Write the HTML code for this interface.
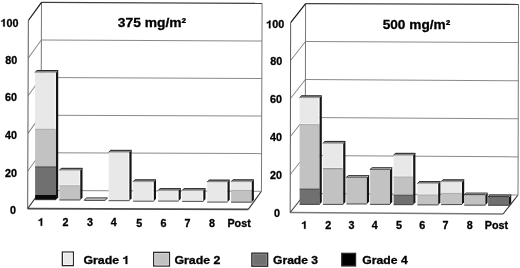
<!DOCTYPE html>
<html><head><meta charset="utf-8"><style>
html,body{margin:0;padding:0;background:#fff;}
body{width:520px;height:268px;overflow:hidden;}
svg{display:block;will-change:transform;}
text{font-family:"Liberation Sans",sans-serif;font-weight:bold;fill:#000;stroke:#000;stroke-width:0.3px;}
.one{fill:#000;stroke:#000;stroke-width:0.3px;vector-effect:non-scaling-stroke;}
</style></head><body>
<svg width="520" height="268" viewBox="0 0 520 268">
<rect width="520" height="268" fill="#fff"/>
<g transform="matrix(1,0,-0.00350,1,0.008,0)">
<line x1="41.50" y1="152.78" x2="262.10" y2="153.64" stroke="#8a8a8a" stroke-width="1"/>
<line x1="41.50" y1="152.78" x2="28.40" y2="170.98" stroke="#8a8a8a" stroke-width="1"/>
<line x1="41.50" y1="115.16" x2="262.10" y2="116.08" stroke="#8a8a8a" stroke-width="1"/>
<line x1="41.50" y1="115.16" x2="28.40" y2="133.36" stroke="#8a8a8a" stroke-width="1"/>
<line x1="41.50" y1="77.54" x2="262.10" y2="78.52" stroke="#8a8a8a" stroke-width="1"/>
<line x1="41.50" y1="77.54" x2="28.40" y2="95.74" stroke="#8a8a8a" stroke-width="1"/>
<line x1="41.50" y1="39.92" x2="262.10" y2="40.96" stroke="#8a8a8a" stroke-width="1"/>
<line x1="41.50" y1="39.92" x2="28.40" y2="58.12" stroke="#8a8a8a" stroke-width="1"/>
<line x1="41.50" y1="2.30" x2="41.50" y2="190.40" stroke="#777" stroke-width="1"/>
<line x1="262.10" y1="3.40" x2="262.10" y2="191.20" stroke="#777" stroke-width="1"/>
<line x1="41.50" y1="2.30" x2="262.10" y2="3.40" stroke="#404040" stroke-width="1.2"/>
<line x1="41.50" y1="2.30" x2="28.40" y2="20.50" stroke="#151515" stroke-width="1.2"/>
<line x1="28.40" y1="20.50" x2="28.40" y2="208.60" stroke="#5a5a5a" stroke-width="1.0"/>
<line x1="28.40" y1="208.60" x2="249.00" y2="209.40" stroke="#4a4a4a" stroke-width="1.6"/>
<line x1="262.10" y1="191.20" x2="249.00" y2="209.40" stroke="#333" stroke-width="1.1"/>
<line x1="41.50" y1="190.40" x2="28.40" y2="208.60" stroke="#333" stroke-width="1.0"/>
<line x1="41.50" y1="190.40" x2="262.10" y2="191.20" stroke="#8a8a8a" stroke-width="1"/>
</g>
<polygon points="35.10,72.50 56.00,72.50 56.00,128.80 35.10,128.80" fill="#e8e8e8"/>
<polygon points="35.10,128.80 56.00,128.80 56.00,166.90 35.10,166.90" fill="#c2c2c2"/>
<polygon points="35.10,166.90 56.00,166.90 56.00,195.00 35.10,195.00" fill="#707070"/>
<polygon points="35.10,195.00 56.00,195.00 56.00,199.70 35.10,199.70" fill="#0a0a0a"/>
<polygon points="56.00,72.50 58.20,70.10 58.20,197.30 56.00,199.70" fill="#151515"/>
<polygon points="35.10,72.50 37.30,70.10 58.20,70.10 56.00,72.50" fill="#808080"/>
<line x1="37.30" y1="70.50" x2="58.20" y2="70.50" stroke="#1e1e1e" stroke-width="0.9"/>
<line x1="35.10" y1="72.50" x2="37.30" y2="70.10" stroke="#1e1e1e" stroke-width="0.9"/>
<line x1="35.10" y1="72.30" x2="56.00" y2="72.30" stroke="#9a9a9a" stroke-width="0.5"/>
<line x1="55.10" y1="73.10" x2="55.10" y2="128.40" stroke="#fbfbfb" stroke-width="0.9"/>
<line x1="35.10" y1="128.35" x2="55.00" y2="128.35" stroke="#f6f6f6" stroke-width="0.8"/>
<line x1="35.10" y1="129.20" x2="55.00" y2="129.20" stroke="#a4a4a4" stroke-width="0.8"/>
<line x1="35.10" y1="166.90" x2="56.00" y2="166.90" stroke="#2a2a2a" stroke-width="0.7"/>
<line x1="35.10" y1="199.70" x2="56.00" y2="199.70" stroke="#222" stroke-width="0.8"/>
<polygon points="59.40,170.30 80.30,170.30 80.30,185.40 59.40,185.40" fill="#e8e8e8"/>
<polygon points="59.40,185.40 80.30,185.40 80.30,200.00 59.40,200.00" fill="#c2c2c2"/>
<polygon points="80.30,170.30 82.50,167.90 82.50,197.60 80.30,200.00" fill="#151515"/>
<polygon points="59.40,170.30 61.60,167.90 82.50,167.90 80.30,170.30" fill="#808080"/>
<line x1="61.60" y1="168.30" x2="82.50" y2="168.30" stroke="#1e1e1e" stroke-width="0.9"/>
<line x1="59.40" y1="170.30" x2="61.60" y2="167.90" stroke="#1e1e1e" stroke-width="0.9"/>
<line x1="59.40" y1="170.10" x2="80.30" y2="170.10" stroke="#9a9a9a" stroke-width="0.5"/>
<line x1="79.40" y1="170.90" x2="79.40" y2="185.00" stroke="#fbfbfb" stroke-width="0.9"/>
<line x1="59.40" y1="184.95" x2="79.30" y2="184.95" stroke="#f6f6f6" stroke-width="0.8"/>
<line x1="59.40" y1="185.80" x2="79.30" y2="185.80" stroke="#a4a4a4" stroke-width="0.8"/>
<line x1="59.40" y1="200.00" x2="80.30" y2="200.00" stroke="#222" stroke-width="0.8"/>
<polygon points="84.30,200.30 86.50,197.90 107.40,197.90 105.20,200.30" fill="#d8d8d8" stroke="#1a1a1a" stroke-width="0.9"/>
<polygon points="108.70,152.30 129.40,152.30 129.40,200.70 108.70,200.70" fill="#e8e8e8"/>
<polygon points="129.40,152.30 131.60,149.90 131.60,198.30 129.40,200.70" fill="#151515"/>
<polygon points="108.70,152.30 110.90,149.90 131.60,149.90 129.40,152.30" fill="#808080"/>
<line x1="110.90" y1="150.30" x2="131.60" y2="150.30" stroke="#1e1e1e" stroke-width="0.9"/>
<line x1="108.70" y1="152.30" x2="110.90" y2="149.90" stroke="#1e1e1e" stroke-width="0.9"/>
<line x1="108.70" y1="152.10" x2="129.40" y2="152.10" stroke="#9a9a9a" stroke-width="0.5"/>
<line x1="128.50" y1="152.90" x2="128.50" y2="200.30" stroke="#fbfbfb" stroke-width="0.9"/>
<line x1="108.70" y1="200.70" x2="129.40" y2="200.70" stroke="#222" stroke-width="0.8"/>
<polygon points="133.10,181.80 153.80,181.80 153.80,201.20 133.10,201.20" fill="#e8e8e8"/>
<polygon points="153.80,181.80 156.00,179.40 156.00,198.80 153.80,201.20" fill="#151515"/>
<polygon points="133.10,181.80 135.30,179.40 156.00,179.40 153.80,181.80" fill="#808080"/>
<line x1="135.30" y1="179.80" x2="156.00" y2="179.80" stroke="#1e1e1e" stroke-width="0.9"/>
<line x1="133.10" y1="181.80" x2="135.30" y2="179.40" stroke="#1e1e1e" stroke-width="0.9"/>
<line x1="133.10" y1="181.60" x2="153.80" y2="181.60" stroke="#9a9a9a" stroke-width="0.5"/>
<line x1="152.90" y1="182.40" x2="152.90" y2="200.80" stroke="#fbfbfb" stroke-width="0.9"/>
<line x1="133.10" y1="201.20" x2="153.80" y2="201.20" stroke="#222" stroke-width="0.8"/>
<polygon points="158.10,190.60 178.60,190.60 178.60,201.10 158.10,201.10" fill="#e8e8e8"/>
<polygon points="178.60,190.60 180.80,188.20 180.80,198.70 178.60,201.10" fill="#151515"/>
<polygon points="158.10,190.60 160.30,188.20 180.80,188.20 178.60,190.60" fill="#808080"/>
<line x1="160.30" y1="188.60" x2="180.80" y2="188.60" stroke="#1e1e1e" stroke-width="0.9"/>
<line x1="158.10" y1="190.60" x2="160.30" y2="188.20" stroke="#1e1e1e" stroke-width="0.9"/>
<line x1="158.10" y1="190.40" x2="178.60" y2="190.40" stroke="#9a9a9a" stroke-width="0.5"/>
<line x1="177.70" y1="191.20" x2="177.70" y2="200.70" stroke="#fbfbfb" stroke-width="0.9"/>
<line x1="158.10" y1="201.10" x2="178.60" y2="201.10" stroke="#222" stroke-width="0.8"/>
<polygon points="182.10,190.60 203.30,190.60 203.30,201.40 182.10,201.40" fill="#e8e8e8"/>
<polygon points="203.30,190.60 205.50,188.20 205.50,199.00 203.30,201.40" fill="#151515"/>
<polygon points="182.10,190.60 184.30,188.20 205.50,188.20 203.30,190.60" fill="#808080"/>
<line x1="184.30" y1="188.60" x2="205.50" y2="188.60" stroke="#1e1e1e" stroke-width="0.9"/>
<line x1="182.10" y1="190.60" x2="184.30" y2="188.20" stroke="#1e1e1e" stroke-width="0.9"/>
<line x1="182.10" y1="190.40" x2="203.30" y2="190.40" stroke="#9a9a9a" stroke-width="0.5"/>
<line x1="202.40" y1="191.20" x2="202.40" y2="201.00" stroke="#fbfbfb" stroke-width="0.9"/>
<line x1="182.10" y1="201.40" x2="203.30" y2="201.40" stroke="#222" stroke-width="0.8"/>
<polygon points="207.20,182.10 227.50,182.10 227.50,202.10 207.20,202.10" fill="#e8e8e8"/>
<polygon points="227.50,182.10 229.70,179.70 229.70,199.70 227.50,202.10" fill="#151515"/>
<polygon points="207.20,182.10 209.40,179.70 229.70,179.70 227.50,182.10" fill="#808080"/>
<line x1="209.40" y1="180.10" x2="229.70" y2="180.10" stroke="#1e1e1e" stroke-width="0.9"/>
<line x1="207.20" y1="182.10" x2="209.40" y2="179.70" stroke="#1e1e1e" stroke-width="0.9"/>
<line x1="207.20" y1="181.90" x2="227.50" y2="181.90" stroke="#9a9a9a" stroke-width="0.5"/>
<line x1="226.60" y1="182.70" x2="226.60" y2="201.70" stroke="#fbfbfb" stroke-width="0.9"/>
<line x1="207.20" y1="202.10" x2="227.50" y2="202.10" stroke="#222" stroke-width="0.8"/>
<polygon points="231.10,181.80 251.70,181.80 251.70,189.90 231.10,189.90" fill="#e8e8e8"/>
<polygon points="231.10,189.90 251.70,189.90 251.70,202.20 231.10,202.20" fill="#c2c2c2"/>
<polygon points="251.70,181.80 253.90,179.40 253.90,199.80 251.70,202.20" fill="#151515"/>
<polygon points="231.10,181.80 233.30,179.40 253.90,179.40 251.70,181.80" fill="#808080"/>
<line x1="233.30" y1="179.80" x2="253.90" y2="179.80" stroke="#1e1e1e" stroke-width="0.9"/>
<line x1="231.10" y1="181.80" x2="233.30" y2="179.40" stroke="#1e1e1e" stroke-width="0.9"/>
<line x1="231.10" y1="181.60" x2="251.70" y2="181.60" stroke="#9a9a9a" stroke-width="0.5"/>
<line x1="250.80" y1="182.40" x2="250.80" y2="189.50" stroke="#fbfbfb" stroke-width="0.9"/>
<line x1="231.10" y1="189.45" x2="250.70" y2="189.45" stroke="#f6f6f6" stroke-width="0.8"/>
<line x1="231.10" y1="190.30" x2="250.70" y2="190.30" stroke="#a4a4a4" stroke-width="0.8"/>
<line x1="231.10" y1="202.20" x2="251.70" y2="202.20" stroke="#222" stroke-width="0.8"/>
<text font-size="10.75" transform="translate(0.62,26.60) scale(1.0000,1)"><tspan visibility="hidden">1</tspan>00</text>
<path class="one" d="M0.383 0 L0.383 0.712 L0.272 0.712 C0.258 0.652 0.216 0.607 0.158 0.579 C0.113 0.557 0.072 0.550 0.046 0.548 L0.046 0.447 C0.120 0.450 0.190 0.475 0.245 0.515 L0.245 0 Z" transform="translate(0.62,26.60) scale(10.750,-10.750)"/>
<text font-size="10.75" transform="translate(5.29,64.20) scale(1.0000,1)">80</text>
<text font-size="10.75" transform="translate(5.06,101.30) scale(1.0000,1)">60</text>
<text font-size="10.75" transform="translate(5.02,139.00) scale(1.0000,1)">40</text>
<text font-size="10.75" transform="translate(4.91,176.60) scale(1.0000,1)">20</text>
<text font-size="10.75" transform="translate(9.92,213.80) scale(1.0000,1)">0</text>
<text font-size="10.75" transform="translate(38.04,225.80) scale(1.0000,1)"><tspan visibility="hidden">1</tspan></text>
<path class="one" d="M0.383 0 L0.383 0.712 L0.272 0.712 C0.258 0.652 0.216 0.607 0.158 0.579 C0.113 0.557 0.072 0.550 0.046 0.548 L0.046 0.447 C0.120 0.450 0.190 0.475 0.245 0.515 L0.245 0 Z" transform="translate(38.04,225.80) scale(10.750,-10.750)"/>
<text font-size="10.75" transform="translate(62.39,226.00) scale(1.0000,1)">2</text>
<text font-size="10.75" transform="translate(86.97,226.20) scale(1.0000,1)">3</text>
<text font-size="10.75" transform="translate(110.81,226.30) scale(1.0000,1)">4</text>
<text font-size="10.75" transform="translate(136.14,226.50) scale(1.0000,1)">5</text>
<text font-size="10.75" transform="translate(160.42,226.60) scale(1.0000,1)">6</text>
<text font-size="10.75" transform="translate(184.52,226.70) scale(1.0000,1)">7</text>
<text font-size="10.75" transform="translate(209.02,226.80) scale(1.0000,1)">8</text>
<text font-size="10.75" transform="translate(227.42,226.80) scale(1.0000,1)">Post</text>
<g transform="matrix(1,0,-0.00250,1,0.009,0)">
<line x1="305.60" y1="155.51" x2="518.50" y2="156.90" stroke="#8a8a8a" stroke-width="1"/>
<line x1="305.60" y1="155.51" x2="290.70" y2="174.51" stroke="#8a8a8a" stroke-width="1"/>
<line x1="305.60" y1="117.52" x2="518.50" y2="118.80" stroke="#8a8a8a" stroke-width="1"/>
<line x1="305.60" y1="117.52" x2="290.70" y2="136.52" stroke="#8a8a8a" stroke-width="1"/>
<line x1="305.60" y1="79.53" x2="518.50" y2="80.70" stroke="#8a8a8a" stroke-width="1"/>
<line x1="305.60" y1="79.53" x2="290.70" y2="98.53" stroke="#8a8a8a" stroke-width="1"/>
<line x1="305.60" y1="41.54" x2="518.50" y2="42.60" stroke="#8a8a8a" stroke-width="1"/>
<line x1="305.60" y1="41.54" x2="290.70" y2="60.54" stroke="#8a8a8a" stroke-width="1"/>
<line x1="305.60" y1="3.55" x2="305.60" y2="193.50" stroke="#777" stroke-width="1"/>
<line x1="518.50" y1="4.50" x2="518.50" y2="195.00" stroke="#777" stroke-width="1"/>
<line x1="305.60" y1="3.55" x2="518.50" y2="4.50" stroke="#404040" stroke-width="1.2"/>
<line x1="305.60" y1="3.55" x2="290.70" y2="22.55" stroke="#151515" stroke-width="1.2"/>
<line x1="290.70" y1="22.55" x2="290.70" y2="212.50" stroke="#5a5a5a" stroke-width="1.0"/>
<line x1="290.70" y1="212.50" x2="503.60" y2="214.00" stroke="#787878" stroke-width="1.4"/>
<line x1="518.50" y1="195.00" x2="503.60" y2="214.00" stroke="#333" stroke-width="1.1"/>
<line x1="305.60" y1="193.50" x2="290.70" y2="212.50" stroke="#333" stroke-width="1.0"/>
<line x1="305.60" y1="193.50" x2="518.50" y2="195.00" stroke="#8a8a8a" stroke-width="1"/>
</g>
<polygon points="299.60,97.80 319.60,97.80 319.60,124.20 299.60,124.20" fill="#e8e8e8"/>
<polygon points="299.60,124.20 319.60,124.20 319.60,189.10 299.60,189.10" fill="#c2c2c2"/>
<polygon points="299.60,189.10 319.60,189.10 319.60,204.40 299.60,204.40" fill="#707070"/>
<polygon points="319.60,97.80 321.80,95.40 321.80,202.00 319.60,204.40" fill="#151515"/>
<polygon points="299.60,97.80 301.80,95.40 321.80,95.40 319.60,97.80" fill="#808080"/>
<line x1="301.80" y1="95.80" x2="321.80" y2="95.80" stroke="#1e1e1e" stroke-width="0.9"/>
<line x1="299.60" y1="97.80" x2="301.80" y2="95.40" stroke="#1e1e1e" stroke-width="0.9"/>
<line x1="299.60" y1="97.60" x2="319.60" y2="97.60" stroke="#9a9a9a" stroke-width="0.5"/>
<line x1="318.70" y1="98.40" x2="318.70" y2="123.80" stroke="#fbfbfb" stroke-width="0.9"/>
<line x1="299.60" y1="123.75" x2="318.60" y2="123.75" stroke="#f6f6f6" stroke-width="0.8"/>
<line x1="299.60" y1="124.60" x2="318.60" y2="124.60" stroke="#a4a4a4" stroke-width="0.8"/>
<line x1="299.60" y1="189.10" x2="319.60" y2="189.10" stroke="#2a2a2a" stroke-width="0.7"/>
<line x1="299.60" y1="204.40" x2="319.60" y2="204.40" stroke="#222" stroke-width="0.8"/>
<polygon points="323.00,143.40 343.20,143.40 343.20,168.30 323.00,168.30" fill="#e8e8e8"/>
<polygon points="323.00,168.30 343.20,168.30 343.20,204.40 323.00,204.40" fill="#c2c2c2"/>
<polygon points="343.20,143.40 345.40,141.00 345.40,202.00 343.20,204.40" fill="#151515"/>
<polygon points="323.00,143.40 325.20,141.00 345.40,141.00 343.20,143.40" fill="#808080"/>
<line x1="325.20" y1="141.40" x2="345.40" y2="141.40" stroke="#1e1e1e" stroke-width="0.9"/>
<line x1="323.00" y1="143.40" x2="325.20" y2="141.00" stroke="#1e1e1e" stroke-width="0.9"/>
<line x1="323.00" y1="143.20" x2="343.20" y2="143.20" stroke="#9a9a9a" stroke-width="0.5"/>
<line x1="342.30" y1="144.00" x2="342.30" y2="167.90" stroke="#fbfbfb" stroke-width="0.9"/>
<line x1="323.00" y1="167.85" x2="342.20" y2="167.85" stroke="#f6f6f6" stroke-width="0.8"/>
<line x1="323.00" y1="168.70" x2="342.20" y2="168.70" stroke="#6e6e6e" stroke-width="0.8"/>
<line x1="323.00" y1="204.40" x2="343.20" y2="204.40" stroke="#222" stroke-width="0.8"/>
<polygon points="346.40,177.60 366.90,177.60 366.90,204.00 346.40,204.00" fill="#c2c2c2"/>
<polygon points="366.90,177.60 369.10,175.20 369.10,201.60 366.90,204.00" fill="#151515"/>
<polygon points="346.40,177.60 348.60,175.20 369.10,175.20 366.90,177.60" fill="#d8d8d8"/>
<line x1="348.60" y1="175.60" x2="369.10" y2="175.60" stroke="#1e1e1e" stroke-width="0.9"/>
<line x1="346.40" y1="177.60" x2="348.60" y2="175.20" stroke="#1e1e1e" stroke-width="0.9"/>
<line x1="346.40" y1="177.15" x2="366.90" y2="177.15" stroke="#2a2a2a" stroke-width="0.9"/>
<line x1="346.40" y1="204.00" x2="366.90" y2="204.00" stroke="#222" stroke-width="0.8"/>
<polygon points="370.10,169.70 390.00,169.70 390.00,204.40 370.10,204.40" fill="#c2c2c2"/>
<polygon points="390.00,169.70 392.20,167.30 392.20,202.00 390.00,204.40" fill="#151515"/>
<polygon points="370.10,169.70 372.30,167.30 392.20,167.30 390.00,169.70" fill="#d8d8d8"/>
<line x1="372.30" y1="167.70" x2="392.20" y2="167.70" stroke="#1e1e1e" stroke-width="0.9"/>
<line x1="370.10" y1="169.70" x2="372.30" y2="167.30" stroke="#1e1e1e" stroke-width="0.9"/>
<line x1="370.10" y1="169.25" x2="390.00" y2="169.25" stroke="#2a2a2a" stroke-width="0.9"/>
<line x1="370.10" y1="204.40" x2="390.00" y2="204.40" stroke="#222" stroke-width="0.8"/>
<polygon points="393.60,155.30 413.20,155.30 413.20,176.60 393.60,176.60" fill="#e8e8e8"/>
<polygon points="393.60,176.60 413.20,176.60 413.20,195.20 393.60,195.20" fill="#c2c2c2"/>
<polygon points="393.60,195.20 413.20,195.20 413.20,204.70 393.60,204.70" fill="#707070"/>
<polygon points="413.20,155.30 415.40,152.90 415.40,202.30 413.20,204.70" fill="#151515"/>
<polygon points="393.60,155.30 395.80,152.90 415.40,152.90 413.20,155.30" fill="#808080"/>
<line x1="395.80" y1="153.30" x2="415.40" y2="153.30" stroke="#1e1e1e" stroke-width="0.9"/>
<line x1="393.60" y1="155.30" x2="395.80" y2="152.90" stroke="#1e1e1e" stroke-width="0.9"/>
<line x1="393.60" y1="155.10" x2="413.20" y2="155.10" stroke="#9a9a9a" stroke-width="0.5"/>
<line x1="412.30" y1="155.90" x2="412.30" y2="176.20" stroke="#fbfbfb" stroke-width="0.9"/>
<line x1="393.60" y1="176.15" x2="412.20" y2="176.15" stroke="#f6f6f6" stroke-width="0.8"/>
<line x1="393.60" y1="177.00" x2="412.20" y2="177.00" stroke="#a4a4a4" stroke-width="0.8"/>
<line x1="393.60" y1="195.20" x2="413.20" y2="195.20" stroke="#2a2a2a" stroke-width="0.7"/>
<line x1="393.60" y1="204.70" x2="413.20" y2="204.70" stroke="#222" stroke-width="0.8"/>
<polygon points="417.40,183.60 438.20,183.60 438.20,194.70 417.40,194.70" fill="#e8e8e8"/>
<polygon points="417.40,194.70 438.20,194.70 438.20,204.90 417.40,204.90" fill="#c2c2c2"/>
<polygon points="438.20,183.60 440.40,181.20 440.40,202.50 438.20,204.90" fill="#151515"/>
<polygon points="417.40,183.60 419.60,181.20 440.40,181.20 438.20,183.60" fill="#808080"/>
<line x1="419.60" y1="181.60" x2="440.40" y2="181.60" stroke="#1e1e1e" stroke-width="0.9"/>
<line x1="417.40" y1="183.60" x2="419.60" y2="181.20" stroke="#1e1e1e" stroke-width="0.9"/>
<line x1="417.40" y1="183.40" x2="438.20" y2="183.40" stroke="#9a9a9a" stroke-width="0.5"/>
<line x1="437.30" y1="184.20" x2="437.30" y2="194.30" stroke="#fbfbfb" stroke-width="0.9"/>
<line x1="417.40" y1="194.25" x2="437.20" y2="194.25" stroke="#f6f6f6" stroke-width="0.8"/>
<line x1="417.40" y1="195.10" x2="437.20" y2="195.10" stroke="#a4a4a4" stroke-width="0.8"/>
<line x1="417.40" y1="204.90" x2="438.20" y2="204.90" stroke="#222" stroke-width="0.8"/>
<polygon points="441.10,181.80 462.00,181.80 462.00,192.90 441.10,192.90" fill="#e8e8e8"/>
<polygon points="441.10,192.90 462.00,192.90 462.00,204.60 441.10,204.60" fill="#c2c2c2"/>
<polygon points="462.00,181.80 464.20,179.40 464.20,202.20 462.00,204.60" fill="#151515"/>
<polygon points="441.10,181.80 443.30,179.40 464.20,179.40 462.00,181.80" fill="#808080"/>
<line x1="443.30" y1="179.80" x2="464.20" y2="179.80" stroke="#1e1e1e" stroke-width="0.9"/>
<line x1="441.10" y1="181.80" x2="443.30" y2="179.40" stroke="#1e1e1e" stroke-width="0.9"/>
<line x1="441.10" y1="181.60" x2="462.00" y2="181.60" stroke="#9a9a9a" stroke-width="0.5"/>
<line x1="461.10" y1="182.40" x2="461.10" y2="192.50" stroke="#fbfbfb" stroke-width="0.9"/>
<line x1="441.10" y1="192.45" x2="461.00" y2="192.45" stroke="#f6f6f6" stroke-width="0.8"/>
<line x1="441.10" y1="193.30" x2="461.00" y2="193.30" stroke="#a4a4a4" stroke-width="0.8"/>
<line x1="441.10" y1="204.60" x2="462.00" y2="204.60" stroke="#222" stroke-width="0.8"/>
<polygon points="464.20,195.10 485.40,195.10 485.40,205.20 464.20,205.20" fill="#c2c2c2"/>
<polygon points="485.40,195.10 487.60,192.70 487.60,202.80 485.40,205.20" fill="#151515"/>
<polygon points="464.20,195.10 466.40,192.70 487.60,192.70 485.40,195.10" fill="#d8d8d8"/>
<line x1="466.40" y1="193.10" x2="487.60" y2="193.10" stroke="#1e1e1e" stroke-width="0.9"/>
<line x1="464.20" y1="195.10" x2="466.40" y2="192.70" stroke="#1e1e1e" stroke-width="0.9"/>
<line x1="464.20" y1="194.65" x2="485.40" y2="194.65" stroke="#2a2a2a" stroke-width="0.9"/>
<line x1="464.20" y1="205.20" x2="485.40" y2="205.20" stroke="#222" stroke-width="0.8"/>
<polygon points="488.10,197.00 509.00,197.00 509.00,205.30 488.10,205.30" fill="#707070"/>
<polygon points="509.00,197.00 511.20,194.60 511.20,202.90 509.00,205.30" fill="#151515"/>
<polygon points="488.10,197.00 490.30,194.60 511.20,194.60 509.00,197.00" fill="#b4b4b4"/>
<line x1="490.30" y1="195.00" x2="511.20" y2="195.00" stroke="#1e1e1e" stroke-width="0.9"/>
<line x1="488.10" y1="197.00" x2="490.30" y2="194.60" stroke="#1e1e1e" stroke-width="0.9"/>
<line x1="488.10" y1="196.55" x2="509.00" y2="196.55" stroke="#2a2a2a" stroke-width="0.9"/>
<line x1="488.10" y1="205.30" x2="509.00" y2="205.30" stroke="#222" stroke-width="0.8"/>
<text font-size="10.75" transform="translate(266.32,28.20) scale(1.0000,1)"><tspan visibility="hidden">1</tspan>00</text>
<path class="one" d="M0.383 0 L0.383 0.712 L0.272 0.712 C0.258 0.652 0.216 0.607 0.158 0.579 C0.113 0.557 0.072 0.550 0.046 0.548 L0.046 0.447 C0.120 0.450 0.190 0.475 0.245 0.515 L0.245 0 Z" transform="translate(266.32,28.20) scale(10.750,-10.750)"/>
<text font-size="10.75" transform="translate(270.24,64.80) scale(1.0000,1)">80</text>
<text font-size="10.75" transform="translate(270.11,102.60) scale(1.0000,1)">60</text>
<text font-size="10.75" transform="translate(270.07,140.80) scale(1.0000,1)">40</text>
<text font-size="10.75" transform="translate(270.01,178.60) scale(1.0000,1)">20</text>
<text font-size="10.75" transform="translate(273.92,216.60) scale(1.0000,1)">0</text>
<text font-size="10.75" transform="translate(301.44,228.80) scale(1.0000,1)"><tspan visibility="hidden">1</tspan></text>
<path class="one" d="M0.383 0 L0.383 0.712 L0.272 0.712 C0.258 0.652 0.216 0.607 0.158 0.579 C0.113 0.557 0.072 0.550 0.046 0.548 L0.046 0.447 C0.120 0.450 0.190 0.475 0.245 0.515 L0.245 0 Z" transform="translate(301.44,228.80) scale(10.750,-10.750)"/>
<text font-size="10.75" transform="translate(325.19,228.80) scale(1.0000,1)">2</text>
<text font-size="10.75" transform="translate(348.42,228.90) scale(1.0000,1)">3</text>
<text font-size="10.75" transform="translate(371.71,228.90) scale(1.0000,1)">4</text>
<text font-size="10.75" transform="translate(395.89,229.00) scale(1.0000,1)">5</text>
<text font-size="10.75" transform="translate(419.27,229.00) scale(1.0000,1)">6</text>
<text font-size="10.75" transform="translate(442.62,229.00) scale(1.0000,1)">7</text>
<text font-size="10.75" transform="translate(466.77,229.00) scale(1.0000,1)">8</text>
<text font-size="10.75" transform="translate(484.72,229.00) scale(1.0000,1)">Post</text>
<text font-size="13.4" transform="translate(117.85,26.80) scale(1.0311,1)">375 mg/m²</text>
<text font-size="13.4" transform="translate(382.69,28.55) scale(1.0199,1)">500 mg/m²</text>
<rect x="62.35" y="252.05" width="11.00" height="13.60" fill="#e8e8e8" stroke="#2a2a2a" stroke-width="1.3"/>
<rect x="63.50" y="253.20" width="8.70" height="11.30" fill="none" stroke="#fafafa" stroke-width="0.9"/>
<text font-size="11.3" transform="translate(83.41,264.00) scale(1.0939,1)">Grade <tspan visibility="hidden">1</tspan></text>
<path class="one" d="M0.383 0 L0.383 0.712 L0.272 0.712 C0.258 0.652 0.216 0.607 0.158 0.579 C0.113 0.557 0.072 0.550 0.046 0.548 L0.046 0.447 C0.120 0.450 0.190 0.475 0.245 0.515 L0.245 0 Z" transform="translate(122.57,264.00) scale(12.361,-11.300)"/>
<rect x="153.65" y="252.35" width="15.80" height="13.70" fill="#c2c2c2" stroke="#2a2a2a" stroke-width="1.3"/>
<rect x="154.80" y="253.50" width="13.50" height="11.40" fill="none" stroke="#d8d8d8" stroke-width="0.9"/>
<text font-size="11.3" transform="translate(174.41,264.00) scale(1.0950,1)">Grade 2</text>
<rect x="251.85" y="253.15" width="15.80" height="13.10" fill="#707070" stroke="#2a2a2a" stroke-width="1.3"/>
<rect x="253.00" y="254.30" width="13.50" height="10.80" fill="none" stroke="#8a8a8a" stroke-width="0.9"/>
<text font-size="11.3" transform="translate(273.02,264.20) scale(1.0716,1)">Grade 3</text>
<rect x="341.75" y="253.35" width="13.80" height="12.60" fill="#000" stroke="#2a2a2a" stroke-width="1.3"/>
<text font-size="11.3" transform="translate(362.31,264.10) scale(1.0797,1)">Grade 4</text>
</svg>
</body></html>
